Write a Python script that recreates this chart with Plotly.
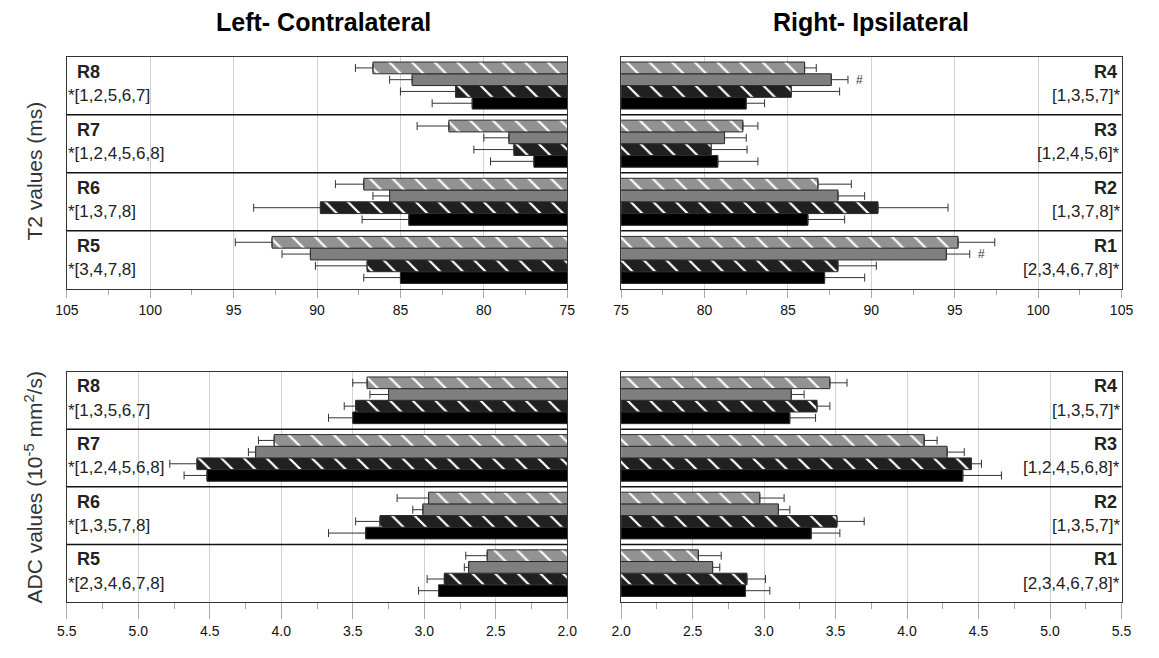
import plotly.graph_objects as go
from plotly.subplots import make_subplots

W, H = 1159, 658

# ---------------- data ----------------
left_groups = ["R5", "R6", "R7", "R8"]     # bottom -> top
right_groups = ["R1", "R2", "R3", "R4"]    # bottom -> top
series_names = ["S1", "S2", "S3", "S4"]    # S1 light hatched (top) ... S4 black (bottom)

# T2 values (ms) - left / contralateral (order R5, R6, R7, R8)
t2_left_s1 = [92.7, 87.2, 82.1, 86.65]
t2_left_s2 = [90.4, 85.65, 78.5, 84.3]
t2_left_s3 = [87.0, 89.8, 78.2, 81.7]
t2_left_s4 = [85.0, 84.5, 77.0, 80.7]
t2_left_e1 = [2.2, 1.7, 1.9, 1.05]
t2_left_e2 = [1.7, 1.0, 1.5, 1.35]
t2_left_e3 = [3.1, 4.0, 2.4, 3.3]
t2_left_e4 = [2.2, 2.8, 2.6, 2.4]

# T2 values (ms) - right / ipsilateral (order R1, R2, R3, R4)
t2_right_s1 = [95.2, 86.8, 82.3, 86.0]
t2_right_s2 = [94.5, 88.0, 81.2, 87.6]
t2_right_s3 = [88.0, 90.4, 80.4, 85.2]
t2_right_s4 = [87.2, 86.2, 80.8, 82.5]
t2_right_e1 = [2.2, 2.0, 0.9, 0.7]
t2_right_e2 = [1.4, 1.6, 1.3, 1.0]
t2_right_e3 = [2.3, 4.2, 2.15, 2.9]
t2_right_e4 = [2.4, 2.2, 2.4, 1.1]

# ADC values (1e-5 mm2/s) - left (order R5, R6, R7, R8)
adc_left_s1 = [2.56, 2.97, 4.05, 3.40]
adc_left_s2 = [2.69, 3.01, 4.18, 3.25]
adc_left_s3 = [2.86, 3.31, 4.59, 3.48]
adc_left_s4 = [2.90, 3.41, 4.52, 3.50]
adc_left_e1 = [0.15, 0.22, 0.11, 0.10]
adc_left_e2 = [0.03, 0.07, 0.05, 0.13]
adc_left_e3 = [0.12, 0.17, 0.19, 0.08]
adc_left_e4 = [0.14, 0.26, 0.16, 0.17]

# ADC values - right (order R1, R2, R3, R4)
adc_right_s1 = [2.54, 2.97, 4.12, 3.46]
adc_right_s2 = [2.64, 3.10, 4.28, 3.19]
adc_right_s3 = [2.88, 3.51, 4.45, 3.37]
adc_right_s4 = [2.87, 3.33, 4.39, 3.18]
adc_right_e1 = [0.16, 0.17, 0.09, 0.12]
adc_right_e2 = [0.05, 0.08, 0.12, 0.09]
adc_right_e3 = [0.13, 0.19, 0.07, 0.09]
adc_right_e4 = [0.17, 0.20, 0.27, 0.18]

# significance notes
t2_left_notes = ["*[3,4,7,8]", "*[1,3,7,8]", "*[1,2,4,5,6,8]", "*[1,2,5,6,7]"]
t2_right_notes = ["[2,3,4,6,7,8]*", "[1,3,7,8]*", "[1,2,4,5,6]*", "[1,3,5,7]*"]
adc_left_notes = ["*[2,3,4,6,7,8]", "*[1,3,5,7,8]", "*[1,2,4,5,6,8]", "*[1,3,5,6,7]"]
adc_right_notes = ["[2,3,4,6,7,8]*", "[1,3,5,7]*", "[1,2,4,5,6,8]*", "[1,3,5,7]*"]
hash_marks = [("R1", 96.6), ("R4", 89.3)]   # '#' next to S2 bars, T2 right

# ---------------- styling ----------------
FONT = "Liberation Sans, Arial, sans-serif"
colors = {"S1": "#929292", "S2": "#7f7f7f", "S3": "#221f20", "S4": "#000000"}
hatched = {"S1": True, "S2": False, "S3": True, "S4": False}
BARGAP = 0.19

fig = make_subplots(rows=2, cols=2)

panels = [
    (1, 1, left_groups, [t2_left_s1, t2_left_s2, t2_left_s3, t2_left_s4],
     [t2_left_e1, t2_left_e2, t2_left_e3, t2_left_e4], t2_left_notes, "left"),
    (1, 2, right_groups, [t2_right_s1, t2_right_s2, t2_right_s3, t2_right_s4],
     [t2_right_e1, t2_right_e2, t2_right_e3, t2_right_e4], t2_right_notes, "right"),
    (2, 1, left_groups, [adc_left_s1, adc_left_s2, adc_left_s3, adc_left_s4],
     [adc_left_e1, adc_left_e2, adc_left_e3, adc_left_e4], adc_left_notes, "left"),
    (2, 2, right_groups, [adc_right_s1, adc_right_s2, adc_right_s3, adc_right_s4],
     [adc_right_e1, adc_right_e2, adc_right_e3, adc_right_e4], adc_right_notes, "right"),
]

for row, col, groups, vals, errs, notes, side in panels:
    # draw bottom series first so that S1 ends at the top of each group
    for k in [3, 2, 1, 0]:
        name = series_names[k]
        c = colors[name]
        marker = dict(color=c, line=dict(color="#2a2a2a", width=1))
        if hatched[name]:
            marker["pattern"] = dict(shape="\\", fgcolor="white", bgcolor=c,
                                     size=16, solidity=0.14, fillmode="replace")
        fig.add_trace(go.Bar(
            y=groups, x=vals[k], orientation="h", name=name, marker=marker,
            showlegend=False,
            error_x=dict(type="data", symmetric=False, array=errs[k],
                         arrayminus=[0] * len(errs[k]), color="#333333",
                         thickness=1, width=4),
        ), row=row, col=col)

# domains (pixel based, margins are zero)
xl = [56 / W, 567 / W]
xr = [622 / W, 1133 / W]
yt = [1 - 289 / H, 1 - 56.5 / H]
yb = [1 - 602 / H, 1 - 371.5 / H]

common_x = dict(showline=True, mirror=True, linecolor="#333333", linewidth=1,
                showgrid=True, gridcolor="#d2d2d2", gridwidth=1, zeroline=False,
                ticks="outside", tickcolor="#aaaaaa", tickfont=dict(family=FONT, size=14, color="#111"))
common_y = dict(type="category", showline=True, mirror=True, linecolor="#333333", linewidth=1,
                showticklabels=False, ticks="", showgrid=False, zeroline=False,
                range=[-0.5, 3.5], fixedrange=True)

fig.update_layout(
    xaxis=dict(domain=xl, range=[105, 75], dtick=5, tick0=75, ticklen=8,
               minor=dict(dtick=2.5, ticks="outside", ticklen=5, tickcolor="#aaaaaa", showgrid=False), **common_x),
    xaxis2=dict(domain=xr, range=[75, 105], dtick=5, tick0=75, ticklen=8,
                minor=dict(dtick=2.5, ticks="outside", ticklen=5, tickcolor="#aaaaaa", showgrid=False), **common_x),
    xaxis3=dict(domain=xl, range=[5.5, 2.0], dtick=0.5, tick0=2.0, tickformat=".1f", ticklen=16,
                minor=dict(dtick=0.25, ticks="outside", ticklen=6, tickcolor="#aaaaaa", showgrid=False), **common_x),
    xaxis4=dict(domain=xr, range=[2.0, 5.5], dtick=0.5, tick0=2.0, tickformat=".1f", ticklen=16,
                minor=dict(dtick=0.25, ticks="outside", ticklen=6, tickcolor="#aaaaaa", showgrid=False), **common_x),
    yaxis=dict(domain=yt, categoryorder="array", categoryarray=left_groups, **common_y),
    yaxis2=dict(domain=yt, categoryorder="array", categoryarray=right_groups, **common_y),
    yaxis3=dict(domain=yb, categoryorder="array", categoryarray=left_groups, **common_y),
    yaxis4=dict(domain=yb, categoryorder="array", categoryarray=right_groups, **common_y),
)

annotations = []
shapes = []
axis_ids = [("x", "y"), ("x2", "y2"), ("x3", "y3"), ("x4", "y4")]
for (row, col, groups, vals, errs, notes, side), (xa, ya) in zip(panels, axis_ids):
    for i, g in enumerate(groups):
        if side == "left":
            annotations.append(dict(text="<b>%s</b>" % g, xref=xa + " domain", x=0, xanchor="left", xshift=8,
                                    yref=ya, y=g, yanchor="middle", yshift=14, showarrow=False,
                                    font=dict(family=FONT, size=18, color="#222")))
            annotations.append(dict(text=notes[i], xref=xa + " domain", x=0, xanchor="left", xshift=-1,
                                    yref=ya, y=g, yanchor="middle", yshift=-10, showarrow=False,
                                    font=dict(family=FONT, size=17, color="#222")))
        else:
            annotations.append(dict(text="<b>%s</b>" % g, xref=xa + " domain", x=1, xanchor="right", xshift=-3,
                                    yref=ya, y=g, yanchor="middle", yshift=14, showarrow=False,
                                    font=dict(family=FONT, size=18, color="#222")))
            annotations.append(dict(text=notes[i], xref=xa + " domain", x=1, xanchor="right", xshift=0,
                                    yref=ya, y=g, yanchor="middle", yshift=-10, showarrow=False,
                                    font=dict(family=FONT, size=17, color="#222")))
    for b in [0.5, 1.5, 2.5]:
        shapes.append(dict(type="line", xref=xa + " domain", x0=0, x1=1, yref=ya, y0=b, y1=b,
                           line=dict(color="#111111", width=1.5)))

# '#' marks beside the S2 bar (second from top) of T2 right groups
grp_px = (289 - 56.5) / 4
s2_shift = grp_px * (1 - BARGAP) * 0.125
for g, xv in hash_marks:
    annotations.append(dict(text="#", xref="x2", x=xv, yref="y2", y=g, yshift=s2_shift,
                            xanchor="center", yanchor="middle",
                            showarrow=False, font=dict(family=FONT, size=12, color="#333")))

# titles
annotations.append(dict(text="<b>Left- Contralateral</b>", xref="paper", yref="paper",
                        x=318 / W, y=1 - 22 / H, xanchor="center", yanchor="middle", showarrow=False,
                        font=dict(family=FONT, size=25, color="#000")))
annotations.append(dict(text="<b>Right- Ipsilateral</b>", xref="paper", yref="paper",
                        x=877 / W, y=1 - 22 / H, xanchor="center", yanchor="middle", showarrow=False,
                        font=dict(family=FONT, size=25, color="#000")))
annotations.append(dict(text="T2 values (ms)", xref="paper", yref="paper", textangle=-90,
                        x=22 / W, y=1 - 171 / H, xanchor="center", yanchor="middle", showarrow=False,
                        font=dict(family=FONT, size=21, color="#333")))
annotations.append(dict(text="ADC values (10<sup>-5</sup> mm<sup>2</sup>/s)", xref="paper", yref="paper",
                        textangle=-90, x=22 / W, y=1 - 488 / H, xanchor="center", yanchor="middle",
                        showarrow=False, font=dict(family=FONT, size=21, color="#333")))

fig.update_layout(
    width=W, height=H, margin=dict(l=0, r=0, t=0, b=0),
    paper_bgcolor="white", plot_bgcolor="white",
    barmode="group", bargap=BARGAP, bargroupgap=0,
    annotations=annotations, shapes=shapes, showlegend=False,
    font=dict(family=FONT),
)

fig.write_html("out.html")
